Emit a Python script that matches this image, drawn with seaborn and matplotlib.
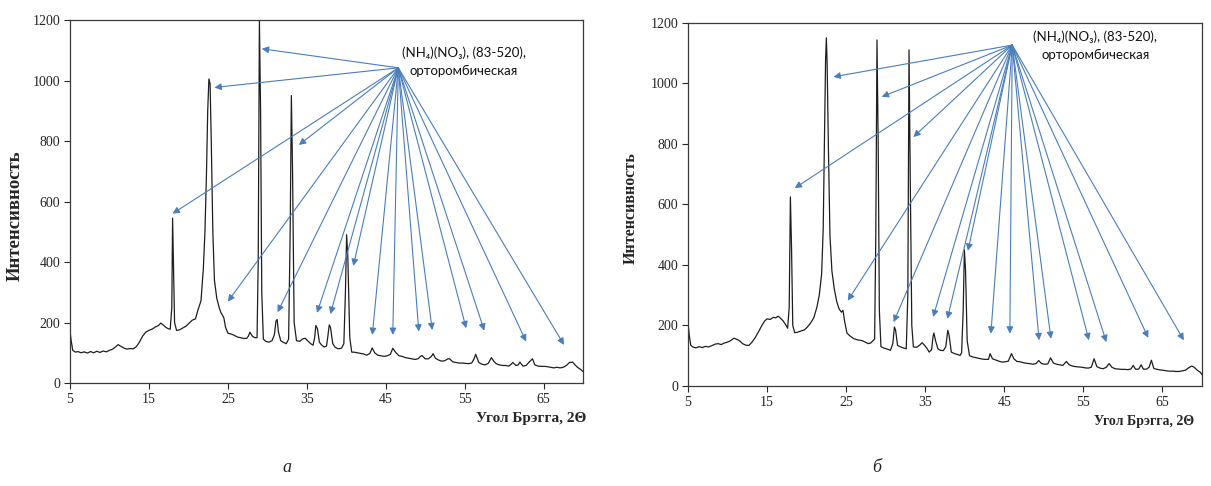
import matplotlib
matplotlib.use('Agg')
import matplotlib.pyplot as plt
import seaborn as sns
import pandas as pd

# Дифрактограмма (а): угол 2Θ и интенсивность
angle_a = [5.0, 5.03, 5.15, 5.35, 5.7, 6.0, 6.4, 6.8, 7.2, 7.6, 8.0, 8.4, 8.8, 9.2, 9.6,
           10.0, 10.4, 10.8, 11.1, 11.4, 11.8, 12.2, 12.6, 13.0, 13.4, 13.8, 14.2, 14.6,
           15.0, 15.4, 15.8, 16.2, 16.5, 16.8, 17.1, 17.4, 17.7, 17.9, 18.0, 18.1, 18.25,
           18.5, 18.9, 19.3, 19.7, 20.1, 20.5, 20.9, 21.2, 21.6, 21.9, 22.1, 22.3, 22.45,
           22.6, 22.75, 22.9, 23.1, 23.3, 23.6, 23.9, 24.1, 24.3, 24.5, 24.7, 25.0, 25.4,
           25.8, 26.2, 26.6, 27.0, 27.4, 27.6, 27.8, 28.1, 28.4, 28.7, 28.85, 29.0, 29.15,
           29.3, 29.5, 29.8, 30.2, 30.6, 30.9, 31.1, 31.25, 31.4, 31.7, 32.0, 32.4, 32.7,
           32.9, 33.05, 33.2, 33.4, 33.7, 34.1, 34.5, 34.8, 35.1, 35.5, 35.8, 36.0, 36.15,
           36.35, 36.6, 36.9, 37.2, 37.5, 37.65, 37.85, 38.0, 38.3, 38.6, 39.0, 39.4, 39.7,
           39.9, 40.05, 40.2, 40.45, 40.7, 41.0, 41.4, 41.8, 42.2, 42.6, 43.0, 43.3, 43.6,
           44.0, 44.4, 44.8, 45.2, 45.6, 45.9, 46.3, 46.7, 47.1, 47.5, 47.9, 48.3, 48.7,
           49.1, 49.4, 49.6, 50.0, 50.4, 50.8, 51.0, 51.3, 51.7, 52.1, 52.5, 52.9, 53.1,
           53.5, 53.9, 54.3, 54.7, 55.1, 55.5, 55.9, 56.2, 56.4, 56.8, 57.2, 57.6, 58.0,
           58.4, 58.7, 59.0, 59.4, 59.8, 60.2, 60.6, 60.9, 61.1, 61.5, 61.8, 62.0, 62.4,
           62.8, 63.2, 63.6, 63.9, 64.3, 64.7, 65.1, 65.5, 65.9, 66.3, 66.7, 67.1, 67.5,
           67.9, 68.3, 68.7, 69.0, 69.3, 69.7, 69.9, 70.0]
intensity_a = [0, 165, 140, 108, 102, 104, 100, 103, 99, 104, 100, 105, 101, 106, 103,
               108, 112, 120, 127, 122, 116, 112, 114, 113, 120, 135, 155, 168,
               174, 178, 185, 190, 198, 192, 185, 180, 178, 250, 545, 400, 200,
               174, 176, 182, 188, 198, 208, 212, 240, 272, 380, 500, 700, 900,
               1005, 990, 800, 500, 340, 280, 250, 234, 225, 215, 185, 165, 162,
               158, 152, 150, 147, 148, 155, 168, 155, 150, 150, 400, 1200, 900,
               300, 145, 138, 135, 140, 160, 205, 210, 170, 140, 135, 130, 145,
               500, 950, 700, 200, 140, 138, 146, 148, 140, 130, 125, 150, 190,
               180, 135, 125, 119, 122, 150, 192, 185, 130, 118, 113, 115, 130,
               300, 490, 420, 150, 102, 102, 100, 98, 96, 92, 98, 116, 100,
               92, 90, 88, 90, 95, 115, 100, 90, 88, 84, 82, 80, 78,
               80, 88, 91, 80, 80, 88, 97, 82, 76, 72, 74, 80, 80,
               70, 68, 66, 66, 65, 64, 66, 80, 95, 68, 62, 60, 65,
               84, 72, 64, 60, 58, 58, 56, 62, 68, 58, 60, 69, 56,
               58, 70, 80, 60, 56, 55, 55, 54, 52, 50, 52, 50, 52,
               58, 68, 69, 60, 52, 45, 40, 38]

# Дифрактограмма (б)
angle_b = [5.0, 5.03, 5.15, 5.35, 5.6, 6.0, 6.4, 6.8, 7.2, 7.6, 8.0, 8.4, 8.8, 9.2, 9.6,
           10.0, 10.4, 10.8, 11.1, 11.5, 11.9, 12.3, 12.7, 13.1, 13.5, 13.9, 14.3, 14.7,
           15.0, 15.4, 15.8, 16.1, 16.4, 16.7, 17.0, 17.3, 17.6, 17.8, 17.95, 18.1, 18.25,
           18.5, 18.9, 19.3, 19.7, 20.1, 20.5, 20.9, 21.3, 21.6, 21.9, 22.1, 22.25, 22.4,
           22.5, 22.6, 22.75, 22.95, 23.2, 23.5, 23.8, 24.1, 24.4, 24.6, 24.8, 25.1, 25.5,
           26.0, 26.5, 27.0, 27.4, 27.8, 28.1, 28.4, 28.6, 28.75, 28.9, 29.05, 29.2, 29.4,
           29.8, 30.2, 30.6, 30.9, 31.1, 31.25, 31.5, 31.9, 32.3, 32.6, 32.8, 32.95, 33.1,
           33.3, 33.5, 33.9, 34.3, 34.6, 34.9, 35.2, 35.5, 35.8, 36.0, 36.1, 36.3, 36.6,
           36.9, 37.3, 37.6, 37.85, 38.0, 38.3, 38.7, 39.1, 39.4, 39.6, 39.8, 39.95, 40.1,
           40.3, 40.6, 41.0, 41.5, 42.0, 42.5, 43.0, 43.2, 43.5, 43.9, 44.3, 44.7, 45.1,
           45.5, 45.9, 46.2, 46.6, 47.0, 47.4, 47.8, 48.2, 48.6, 49.0, 49.35, 49.7, 50.1,
           50.5, 50.85, 51.2, 51.6, 52.0, 52.4, 52.85, 53.2, 53.6, 54.0, 54.4, 54.8, 55.2,
           55.6, 56.0, 56.35, 56.7, 57.1, 57.5, 57.9, 58.25, 58.6, 59.0, 59.4, 59.8, 60.2,
           60.6, 61.0, 61.3, 61.6, 62.0, 62.3, 62.6, 63.0, 63.3, 63.6, 63.9, 64.3, 64.7,
           65.1, 65.5, 65.9, 66.3, 66.7, 67.1, 67.5, 67.9, 68.3, 68.7, 69.0, 69.4, 69.8,
           70.0]
intensity_b = [0, 202, 170, 135, 129, 126, 130, 127, 131, 129, 133, 138, 140, 137, 142,
               145, 150, 158, 155, 150, 140, 135, 134, 145, 160, 178, 198, 215,
               222, 220, 227, 225, 231, 224, 216, 205, 191, 260, 625, 450, 200,
               176, 178, 182, 185, 195, 208, 225, 260, 300, 370, 520, 800, 1080,
               1151, 1060, 800, 500, 380, 321, 280, 255, 244, 250, 215, 175, 165,
               156, 152, 150, 145, 140, 142, 150, 155, 500, 1144, 800, 250, 130,
               125, 122, 118, 140, 195, 185, 134, 129, 125, 123, 300, 1111, 700,
               200, 129, 128, 135, 143, 135, 125, 112, 120, 165, 175, 150, 123,
               118, 117, 130, 184, 170, 112, 107, 104, 101, 110, 250, 450, 380,
               150, 100, 96, 93, 90, 88, 88, 107, 90, 86, 82, 79, 80,
               82, 107, 90, 81, 80, 77, 75, 74, 72, 74, 84, 74, 72,
               73, 93, 76, 72, 70, 68, 81, 70, 66, 64, 63, 62, 60,
               59, 62, 90, 64, 59, 57, 62, 74, 62, 57, 56, 55, 55,
               54, 56, 68, 55, 56, 70, 55, 56, 62, 85, 58, 55, 53,
               52, 50, 49, 49, 48, 48, 50, 52, 60, 66, 62, 52, 45,
               37]

# Рефлексы (NH4)(NO3), на которые указывают стрелки
tips_a_x = [29.3, 23.3, 34.0, 18.0, 25.0, 31.3, 36.3, 38.0, 40.9, 43.3, 45.9, 49.2, 50.9, 55.2, 57.5, 62.8, 67.6]
tips_a_y = [1105, 977, 787, 560, 269, 234, 232, 228, 387, 159, 159, 170, 175, 181, 173, 137, 126]
tips_b_x = [23.4, 29.5, 33.5, 18.5, 25.2, 31.0, 36.0, 37.8, 40.4, 43.3, 45.7, 49.4, 50.9, 55.7, 57.9, 63.2, 67.7]
tips_b_y = [1022, 956, 823, 654, 282, 211, 228, 222, 447, 173, 173, 151, 156, 151, 145, 159, 151]

x_ticks = [5, 15, 25, 35, 45, 55, 65]
y_ticks = [0, 200, 400, 600, 800, 1000, 1200]
phase_label = '(NH₄)(NO₃), (83-520),\nорторомбическая'

sns.set_style('ticks')
plt.rcParams['font.family'] = ['Liberation Serif', 'DejaVu Serif']

arrow_color = '#4A7EBB'
line_color = '#1e1e1e'

fig = plt.figure(figsize=(12.11, 4.86), dpi=100)
ax_a = fig.add_axes([0.0578, 0.2119, 0.4236, 0.7469])
ax_b = fig.add_axes([0.5681, 0.2058, 0.4245, 0.7469])


def draw_panel(ax, angle, intensity, tips_x, tips_y, origin, text_pos,
               ylab_xy, ylab_size, xlab_x, xlab_size):
    df = pd.DataFrame({'angle': angle, 'intensity': intensity})
    sns.lineplot(data=df, x='angle', y='intensity', ax=ax, color=line_color,
                 linewidth=0.9, sort=False, estimator=None)
    for tx, ty in zip(tips_x, tips_y):
        ax.annotate('', xy=(tx, ty), xytext=origin,
                    arrowprops=dict(arrowstyle='-|>', color=arrow_color, lw=0.8,
                                    shrinkA=0, shrinkB=0, mutation_scale=10))
    ax.text(text_pos[0], text_pos[1], phase_label, ha='center', va='center',
            fontsize=9.5, linespacing=1.55, family=['Lato', 'DejaVu Sans'], color='#111111')

    ax.set_xlim(5, 70)
    ax.set_ylim(0, 1200)
    ax.set_xticks(x_ticks)
    ax.set_yticks(y_ticks)
    ax.tick_params(direction='out', length=4, width=0.8, labelsize=10, pad=3)
    for sp in ax.spines.values():
        sp.set_visible(True)
        sp.set_color('#3a3a3a')
        sp.set_linewidth(0.9)

    ax.set_ylabel('Интенсивность', fontweight='bold', fontsize=ylab_size)
    ax.yaxis.set_label_coords(*ylab_xy)
    ax.set_xlabel('Угол Брэгга, 2Θ', fontweight='bold', fontsize=xlab_size)
    ax.xaxis.set_label_coords(xlab_x, -0.099)
    ax.xaxis.label.set_ha('right')
    ax.xaxis.label.set_va('center')


draw_panel(ax_a, angle_a, intensity_a, tips_a_x, tips_a_y, (46.6, 1042), (54.9, 1062),
           (-0.0897, 0.46), 13.5, 1.006, 11)
draw_panel(ax_b, angle_b, intensity_b, tips_b_x, tips_b_y, (46.0, 1127), (56.5, 1124),
           (-0.0953, 0.49), 11.5, 0.985, 10)

fig.text(287 / 1211, 1 - 468 / 486, 'а', style='italic', fontsize=13, ha='center', va='center')
fig.text(877 / 1211, 1 - 468 / 486, 'б', style='italic', fontsize=13, ha='center', va='center')

fig.savefig('out.png', dpi=100)
